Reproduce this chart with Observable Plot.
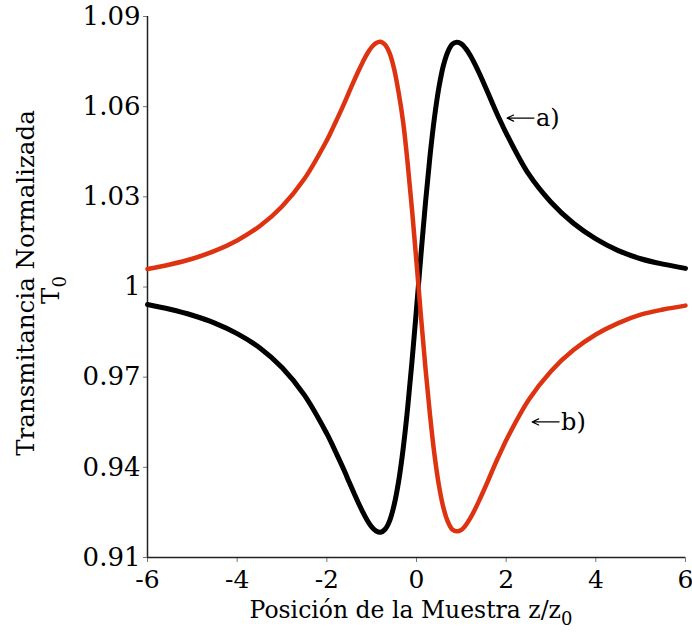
<!DOCTYPE html>
<html>
<head>
<meta charset="utf-8">
<script src="https://cdn.jsdelivr.net/npm/d3@7"></script>
<script src="https://cdn.jsdelivr.net/npm/@observablehq/plot@0.6"></script>
<style>
  html, body { margin: 0; padding: 0; background: #fff; }
  #chart svg { display: block; }
</style>
</head>
<body>
<div id="chart"></div>
<script>
// Posición de la muestra (z/z0) en la que se muestrea cada curva
const posicion = [
  -6, -5.5, -5, -4.5, -4, -3.5, -3, -2.5,
  -2, -1.9, -1.8, -1.7, -1.6, -1.5, -1.4, -1.3, -1.2, -1.1, -1,
  -0.9, -0.8, -0.7, -0.6, -0.5, -0.4, -0.3, -0.2, -0.1, 0,
  0.1, 0.2, 0.3, 0.4, 0.5, 0.6, 0.7, 0.8, 0.9, 1,
  1.1, 1.2, 1.3, 1.4, 1.5, 1.6, 1.7, 1.8, 1.9, 2,
  2.5, 3, 3.5, 4, 4.5, 5, 5.5, 6
];

// Curva a): transmitancia normalizada (negra)
const curvaA = [
  0.9942, 0.9926, 0.9906, 0.9880, 0.9845, 0.9798, 0.9732, 0.9640,
  0.9512, 0.9482, 0.9450, 0.9418, 0.9385, 0.9350, 0.9316, 0.9283, 0.9252, 0.9224, 0.9202,
  0.9188, 0.9184, 0.9194, 0.9222, 0.9274, 0.9352, 0.9459, 0.9594, 0.9753, 0.9928,
  1.0108, 1.0280, 1.0434, 1.0563, 1.0664, 1.0737, 1.0783, 1.0808, 1.0814, 1.0809,
  1.0793, 1.0770, 1.0742, 1.0711, 1.0678, 1.0644, 1.0609, 1.0575, 1.0543, 1.0512,
  1.0376, 1.0282, 1.0212, 1.0160, 1.0121, 1.0094, 1.0076, 1.0062
];

// Curva b): transmitancia normalizada (roja)
const curvaB = [
  1.0060, 1.0075, 1.0094, 1.0120, 1.0155, 1.0202, 1.0268, 1.0360,
  1.0488, 1.0518, 1.0550, 1.0582, 1.0615, 1.0650, 1.0684, 1.0717, 1.0748, 1.0776, 1.0798,
  1.0812, 1.0816, 1.0806, 1.0778, 1.0726, 1.0648, 1.0551, 1.0416, 1.0257, 1.0082,
  0.9902, 0.9730, 0.9576, 0.9443, 0.9340, 0.9266, 0.9219, 0.9193, 0.9187, 0.9192,
  0.9208, 0.9231, 0.9259, 0.9290, 0.9323, 0.9357, 0.9392, 0.9426, 0.9458, 0.9490,
  0.9624, 0.9720, 0.9790, 0.9842, 0.9880, 0.9908, 0.9925, 0.9938
];

// Marcas de los ejes
const xTicks = [-6, -4, -2, 0, 2, 4, 6];
const xTickLabels = ["-6", "-4", "-2", "0", "2", "4", "6"];
const yTicks = [0.91, 0.94, 0.97, 1, 1.03, 1.06, 1.09];
const yTickLabels = ["0.91", "0.94", "0.97", "1", "1.03", "1.06", "1.09"];

// Rótulos con flecha que identifican cada curva
const rotulos = ["a)", "b)"];
const rotuloPuntaX = [2.02, 2.58];
const rotuloColaX = [2.62, 3.18];
const rotuloY = [1.0562, 0.9551];

const xFmt = new Map(xTicks.map((d, i) => [d, xTickLabels[i]]));
const yFmt = new Map(yTicks.map((d, i) => [d, yTickLabels[i]]));

const serie = (ys) => posicion.map((x, i) => ({x, y: ys[i]}));
const notas = rotulos.map((t, i) => ({t, x1: rotuloColaX[i], x2: rotuloPuntaX[i], y: rotuloY[i]}));

const FONT = "DejaVu Serif";

const chart = Plot.plot({
  width: 692,
  height: 635,
  marginLeft: 147,
  marginRight: 7,
  marginTop: 16,
  marginBottom: 78,
  style: {fontFamily: FONT, fontSize: "25px", background: "#fff", color: "#000"},
  x: {domain: [xTicks[0], xTicks[xTicks.length - 1]]},
  y: {domain: [yTicks[0], yTicks[yTicks.length - 1]]},
  marks: [
    Plot.axisX({ticks: xTicks, tickFormat: d => xFmt.get(d), tickSize: 5, tickPadding: 8,
      stroke: "#777", fill: "#000", fontSize: 25, label: null}),
    Plot.axisY({ticks: yTicks, tickFormat: d => yFmt.get(d), tickSize: 4, tickPadding: 3,
      stroke: "#777", fill: "#000", fontSize: 26, label: null}),
    Plot.ruleX([xTicks[0]], {y1: yTicks[0], y2: yTicks[yTicks.length - 1], stroke: "#222", strokeWidth: 1.5}),
    Plot.ruleY([yTicks[0]], {x1: xTicks[0], x2: xTicks[xTicks.length - 1], stroke: "#222", strokeWidth: 1.5}),
    Plot.line(serie(curvaA), {x: "x", y: "y", stroke: "#000", strokeWidth: 5, curve: "catmull-rom"}),
    Plot.line(serie(curvaB), {x: "x", y: "y", stroke: "#dd3311", strokeWidth: 4.5, curve: "catmull-rom"}),
    Plot.arrow(notas, {x1: "x1", x2: "x2", y1: "y", y2: "y", stroke: "#000", strokeWidth: 1.2,
      headLength: 9, headAngle: 50}),
    Plot.text(notas, {x: "x1", y: "y", text: "t", textAnchor: "start", dx: 2, fontSize: 24, fill: "#000"})
  ]
});

document.getElementById("chart").appendChild(chart);

// Títulos de los ejes, con subíndices
const svg = d3.select(chart);
const xLabel = svg.append("text")
  .attr("x", 411).attr("y", 618)
  .attr("text-anchor", "middle")
  .attr("font-family", FONT).attr("font-size", 23.5).attr("fill", "#000");
xLabel.append("tspan").text("Posición de la Muestra z/z");
xLabel.append("tspan").attr("dy", 7).attr("font-size", 18).text("0");

svg.append("text")
  .attr("transform", "translate(34,283) rotate(-90)")
  .attr("text-anchor", "middle")
  .attr("font-family", FONT).attr("font-size", 24.5).attr("fill", "#000")
  .text("Transmitancia Normalizada");

const yLabel2 = svg.append("text")
  .attr("transform", "translate(59,290) rotate(-90)")
  .attr("text-anchor", "middle")
  .attr("font-family", FONT).attr("font-size", 24.5).attr("fill", "#000");
yLabel2.append("tspan").text("T");
yLabel2.append("tspan").attr("dy", 7).attr("font-size", 18).text("0");
</script>
</body>
</html>
